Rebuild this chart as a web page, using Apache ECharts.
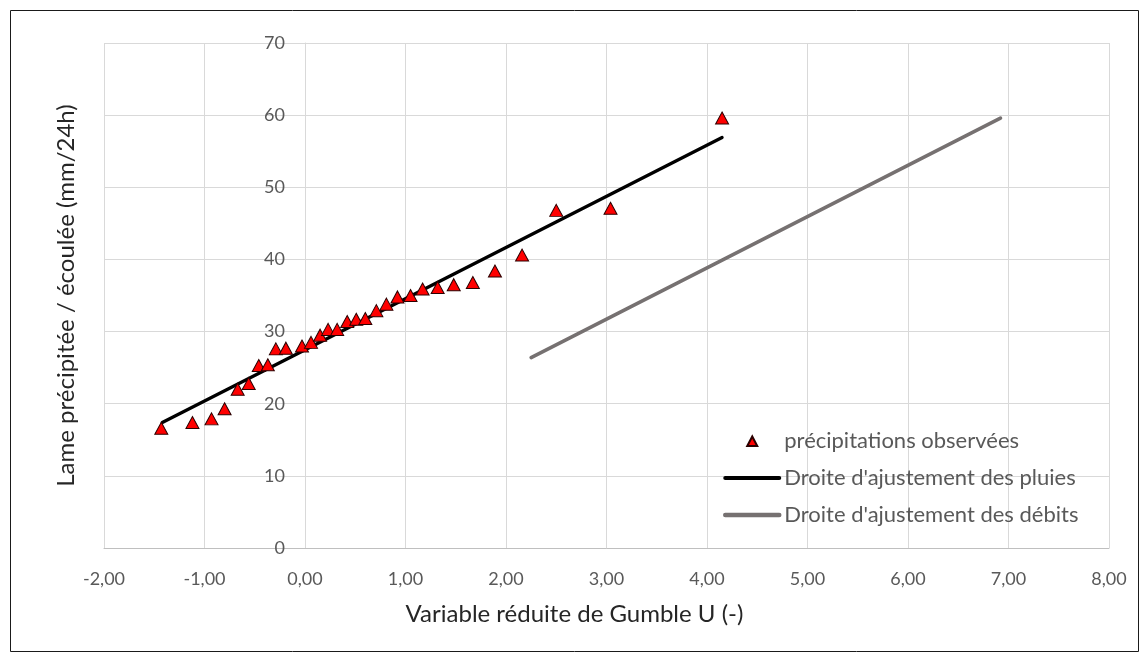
<!DOCTYPE html>
<html>
<head>
<meta charset="utf-8">
<script src="https://cdn.jsdelivr.net/npm/echarts@6/dist/echarts.min.js"></script>
<style>
html,body{margin:0;padding:0;background:#fff;}
#chart{width:1143px;height:657px;}
</style>
</head>
<body>
<div id="chart"></div>
<script>
// Observed precipitation: Gumbel reduced variable U and value (mm/24h)
const gumbelU = [-1.43, -1.12, -0.93, -0.80, -0.67, -0.56, -0.46, -0.37, -0.29, -0.19,
  -0.03, 0.06, 0.15, 0.23, 0.32, 0.42, 0.51, 0.60, 0.71, 0.81, 0.92, 1.05, 1.17, 1.32,
  1.48, 1.67, 1.89, 2.16, 2.50, 3.04, 4.15];
const precipObs = [16.6, 17.4, 17.9, 19.3, 22.0, 22.8, 25.3, 25.4, 27.6, 27.7,
  28.0, 28.5, 29.5, 30.3, 30.3, 31.4, 31.7, 31.8, 32.9, 33.8, 34.8, 35.0, 35.9, 36.1,
  36.5, 36.8, 38.4, 40.6, 46.8, 47.1, 59.6];
// Fitted lines (endpoints)
const fitPluiesU = [-1.42, 4.15];
const fitPluiesY = [17.4, 56.9];
const fitDebitsU = [2.25, 6.92];
const fitDebitsY = [26.4, 59.6];
// Axes
const xTicks = { min: -2, max: 8, interval: 1 };
const yTicks = { min: 0, max: 70, interval: 10 };
const yAxisCrossAt = 0; // vertical axis crosses the horizontal axis at U = 0
const seriesNames = ['précipitations observées', "Droite d'ajustement des pluies", "Droite d'ajustement des débits"];

const zip = (a, b) => a.map((v, i) => [v, b[i]]);
const FONT = 'Lato';

const GRID = { left: 104, right: 34, top: 43, bottom: 109 };
const plotW = 1143 - GRID.left - GRID.right;
// shift of the vertical axis from the left edge to U = 0
const yAxisShift = (yAxisCrossAt - xTicks.min) / (xTicks.max - xTicks.min) * plotW;

const chart = echarts.init(document.getElementById('chart'), null, { renderer: 'canvas' });
chart.setOption({
  backgroundColor: '#ffffff',
  animation: false,
  textStyle: { fontFamily: FONT },
  graphic: [{
    type: 'rect', left: 8, top: 8, silent: true,
    shape: { width: 1128, height: 641 },
    style: { fill: 'none', stroke: '#1a1a1a', lineWidth: 1 }
  }],
  grid: Object.assign({ containLabel: false, outerBoundsMode: 'none' }, GRID),
  xAxis: {
    type: 'value', min: xTicks.min, max: xTicks.max, interval: xTicks.interval,
    name: 'Variable réduite de Gumble U (-)', nameLocation: 'middle', nameGap: 54,
    nameTextStyle: { fontSize: 24, color: '#262626', fontFamily: FONT, padding: [0, 64, 0, 0] },
    axisLine: { show: true, onZero: false, lineStyle: { color: '#bfbfbf', width: 1 } },
    axisTick: { show: false },
    axisLabel: { fontSize: 18, color: '#595959', margin: 22,
      formatter: v => v.toFixed(2).replace('.', ',') },
    splitLine: { show: true, lineStyle: { color: '#d9d9d9', width: 1 } }
  },
  yAxis: {
    type: 'value', min: yTicks.min, max: yTicks.max, interval: yTicks.interval,
    position: 'left', offset: -yAxisShift,
    name: 'Lame précipitée / écoulée (mm/24h)', nameLocation: 'middle', nameGap: 227,
    nameTextStyle: { fontSize: 24, color: '#262626', fontFamily: FONT },
    axisLine: { show: true, onZero: false, lineStyle: { color: '#d9d9d9', width: 1 } },
    axisTick: { show: false },
    axisLabel: { fontSize: 18, color: '#595959', margin: 20 },
    splitLine: { show: true, lineStyle: { color: '#d9d9d9', width: 1 } }
  },
  legend: {
    orient: 'vertical', left: 723, top: 430, padding: 0,
    itemWidth: 54, itemHeight: 12, itemGap: 15,
    textStyle: { fontSize: 22, color: '#595959', fontFamily: FONT },
    data: [
      { name: seriesNames[0], icon: 'path://M0,0 M54,12 M22,11 L27,1.5 L32,11 Z' },
      { name: seriesNames[1], itemStyle: { color: 'transparent', borderWidth: 0, opacity: 0 },
        lineStyle: { width: 4, cap: 'round' } },
      { name: seriesNames[2], itemStyle: { color: 'transparent', borderWidth: 0, opacity: 0 },
        lineStyle: { width: 4.5, cap: 'round' } }
    ]
  },
  series: [
    {
      name: seriesNames[1], type: 'line', data: zip(fitPluiesU, fitPluiesY),
      symbol: 'none', z: 2,
      lineStyle: { color: '#000000', width: 3.3, cap: 'round' },
      itemStyle: { color: '#000000' }
    },
    {
      name: seriesNames[2], type: 'line', data: zip(fitDebitsU, fitDebitsY),
      symbol: 'none', z: 2,
      lineStyle: { color: '#767171', width: 3.6, cap: 'round' },
      itemStyle: { color: '#767171' }
    },
    {
      name: seriesNames[0], type: 'scatter', data: zip(gumbelU, precipObs),
      symbol: 'triangle', symbolSize: [13, 12], z: 5,
      itemStyle: { color: '#ff0000', borderColor: '#2b0000', borderWidth: 1, opacity: 1 }
    }
  ]
});
</script>
</body>
</html>
